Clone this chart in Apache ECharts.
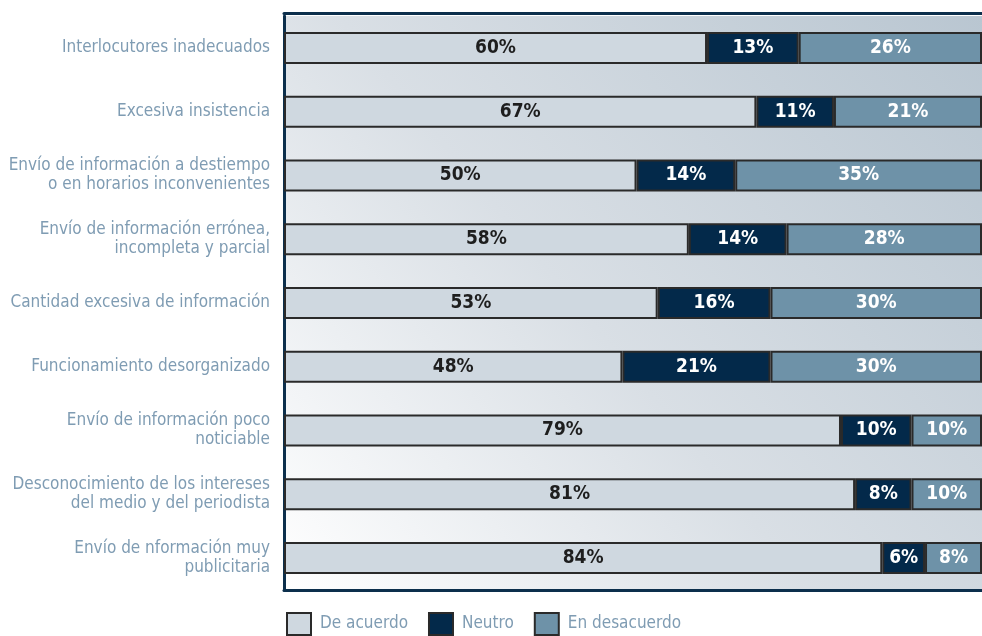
<!DOCTYPE html>
<html><head><meta charset="utf-8">
<script src="https://cdn.jsdelivr.net/npm/echarts@6/dist/echarts.min.js"></script>
<style>html,body{margin:0;padding:0;background:#fff}#c{width:982px;height:636px}</style>
</head><body><div id="c"></div>
<script>
const categories = [
  'Interlocutores inadecuados',
  'Excesiva insistencia',
  'Envío de información a destiempo\no en horarios inconvenientes',
  'Envío de información errónea,\nincompleta y parcial',
  'Cantidad excesiva de información',
  'Funcionamiento desorganizado',
  'Envío de información poco\nnoticiable',
  'Desconocimiento de los intereses\ndel medio y del periodista',
  'Envío de nformación muy\npublicitaria'
];
const seriesNames = ['De acuerdo', 'Neutro', 'En desacuerdo'];
const deAcuerdo = [60, 67, 50, 58, 53, 48, 79, 81, 84];
const neutro = [13, 11, 14, 14, 16, 21, 10, 8, 6];
const enDesacuerdo = [26, 21, 35, 28, 30, 30, 10, 10, 8];

const FONT = "'DejaVu Sans Condensed','Liberation Sans Narrow',sans-serif";
const raw = [deAcuerdo, neutro, enDesacuerdo];
const totals = categories.map((_, i) => deAcuerdo[i] + neutro[i] + enDesacuerdo[i]);
const fills = ['#cfd8e0', '#03294a', '#6e92a8'];
const labelColors = ['#1e1e1e', '#ffffff', '#ffffff'];

const chart = echarts.init(document.getElementById('c'), null, {renderer: 'canvas'});
chart.setOption({
  animation: false,
  grid: {
    left: 284, right: 0, top: 16, bottom: 46,
    outerBoundsMode: 'none', containLabel: false,
    show: true, borderWidth: 0,
    backgroundColor: new echarts.graphic.LinearGradient(1, 0, 0, 1, [
      {offset: 0, color: '#b9c6d1'},
      {offset: 0.55, color: '#d9dfe5'},
      {offset: 1, color: '#ffffff'}
    ])
  },
  legend: {
    left: 281, top: 607, icon: 'rect',
    itemWidth: 24, itemHeight: 22, itemGap: 20,
    textStyle: {fontFamily: FONT, fontSize: 17, color: '#7f9cb3', padding: [0, 0, 0, 4]},
    data: seriesNames
  },
  xAxis: [
    {type: 'value', min: 0, max: 100, show: true, axisLine: {show: true, lineStyle: {color: '#0c2f4c', width: 3}}, axisTick: {show: false}, axisLabel: {show: false}, splitLine: {show: false}, position: 'bottom'},
    {type: 'value', min: 0, max: 100, show: true, axisLine: {show: true, lineStyle: {color: '#0c2f4c', width: 3}}, axisTick: {show: false}, axisLabel: {show: false}, splitLine: {show: false}, position: 'top', offset: 3}
  ],
  yAxis: {
    type: 'category', inverse: true, data: categories,
    axisLine: {show: true, lineStyle: {color: '#0c2f4c', width: 3}},
    axisTick: {show: false},
    axisLabel: {fontFamily: FONT, fontSize: 17, color: '#7f9cb3', align: 'right', margin: 14, lineHeight: 19}
  },
  series: seriesNames.map((name, s) => ({
    name, type: 'bar', stack: 'all', barWidth: 32, xAxisIndex: 0,
    itemStyle: {color: fills[s], borderColor: '#2a2a2a', borderWidth: 2},
    label: {
      show: true, position: 'inside', fontFamily: FONT, fontWeight: 'bold', fontSize: 19,
      color: labelColors[s],
      formatter: p => p.data.raw + '%'
    },
    data: raw[s].map((v, i) => ({value: v / totals[i] * 100, raw: v}))
  }))
});
</script></body></html>
